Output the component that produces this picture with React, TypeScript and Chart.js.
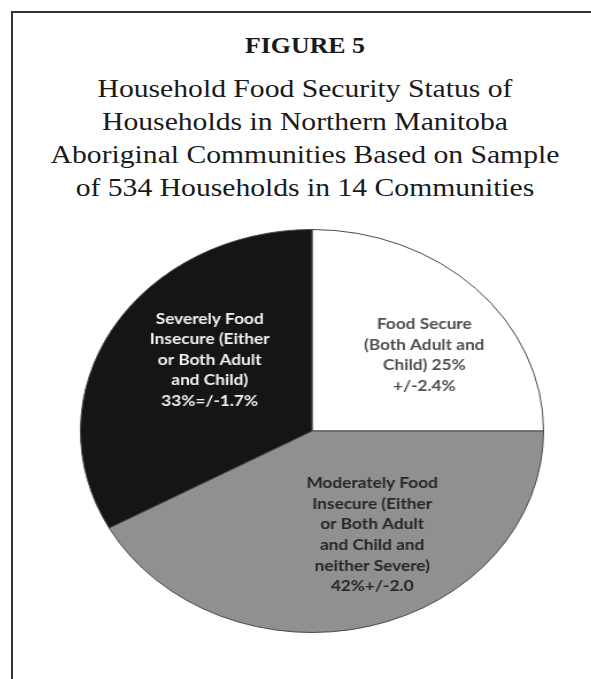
import React, { useEffect, useRef } from "react";
import { Chart, registerables } from "chart.js";

Chart.register(...registerables);

// ---------- data ----------
const figureLabel = "FIGURE 5";
const titleLines = [
  "Household Food Security Status of",
  "Households in Northern Manitoba",
  "Aboriginal Communities Based on Sample",
  "of 534 Households in 14 Communities",
];
const categories = [
  "Food Secure",
  "Moderately Food Insecure",
  "Severely Food Insecure",
];
const shares = [25, 42, 33];
const sliceLabels = [
  ["Food Secure", "(Both Adult and", "Child) 25%", "+/-2.4%"],
  [
    "Moderately Food",
    "Insecure (Either",
    "or Both Adult",
    "and Child and",
    "neither Severe)",
    "42%+/-2.0",
  ],
  ["Severely Food", "Insecure (Either", "or Both Adult", "and Child)", "33%=/-1.7%"],
];

// ---------- style ----------
const sliceColors = ["#ffffff", "#909090", "#151515"];
const labelColors = ["#505050", "#262626", "#f2f2f2"];
// label block centre, in units of the pie radius, relative to pie centre
const labelOffsets = [
  [0.485, -0.376],
  [0.26, 0.515],
  [-0.442, -0.353],
];
const STRETCH = 1.149;
const CANVAS_W = 460;
const CANVAS_H = 404;

const labelPlugin = {
  id: "sliceLabels",
  afterDatasetsDraw(chart: any) {
    const ctx = chart.ctx;
    const meta = chart.getDatasetMeta(0);
    ctx.save();
    ctx.font = "bold 15px Lato";
    ctx.textAlign = "center";
    ctx.textBaseline = "middle";
    const lh = 20.6;
    meta.data.forEach((arc: any, i: number) => {
      const { x, y, outerRadius } = arc.getProps(["x", "y", "outerRadius"], true);
      const cx = x + labelOffsets[i][0] * outerRadius;
      const cy = y + labelOffsets[i][1] * outerRadius;
      const lines = sliceLabels[i];
      ctx.fillStyle = labelColors[i];
      lines.forEach((t, k) => {
        ctx.fillText(t, cx, cy + (k - (lines.length - 1) / 2) * lh);
      });
    });
    ctx.restore();
  },
};

export default function App() {
  const canvasRef = useRef<HTMLCanvasElement | null>(null);

  useEffect(() => {
    if (!canvasRef.current) return;
    const chart = new Chart(canvasRef.current, {
      type: "pie",
      data: {
        labels: categories,
        datasets: [
          {
            data: shares,
            backgroundColor: sliceColors,
            borderColor: "#4a4a4a",
            borderWidth: 1,
          },
        ],
      },
      options: {
        responsive: false,
        animation: false,
        layout: { padding: 0 },
        plugins: {
          legend: { display: false },
          tooltip: { enabled: false },
          title: { display: false },
        },
      },
      plugins: [labelPlugin],
    });
    return () => chart.destroy();
  }, []);

  return (
    <div
      style={{
        position: "absolute",
        left: 0,
        top: 0,
        width: 591,
        height: 679,
        overflow: "hidden",
        background: "#ffffff",
      }}
    >
      <div
        style={{
          position: "absolute",
          left: 11,
          top: 11,
          width: 700,
          height: 800,
          borderTop: "2px solid #333333",
          borderLeft: "2px solid #333333",
        }}
      />
      <div
        style={{
          position: "absolute",
          left: 0,
          top: 32,
          width: 610,
          textAlign: "center",
          fontFamily: "'Liberation Serif', serif",
          fontWeight: "bold",
          fontSize: 22.5,
          lineHeight: "28px",
          color: "#1a1a1a",
          whiteSpace: "nowrap",
          transform: `scaleX(${STRETCH})`,
          transformOrigin: "50% 50%",
        }}
      >
        {figureLabel}
      </div>
      <div
        style={{
          position: "absolute",
          left: 0,
          top: 72,
          width: 610,
          textAlign: "center",
          fontFamily: "'Liberation Serif', serif",
          fontSize: 25.8,
          lineHeight: "33px",
          color: "#1a1a1a",
          whiteSpace: "nowrap",
          transform: `scaleX(${STRETCH})`,
          transformOrigin: "50% 50%",
        }}
      >
        {titleLines.map((t, i) => (
          <div key={i}>{t}</div>
        ))}
      </div>
      <canvas
        ref={canvasRef}
        width={CANVAS_W}
        height={CANVAS_H}
        style={{
          position: "absolute",
          left: 312 - CANVAS_W / 2,
          top: 431 - CANVAS_H / 2,
          width: CANVAS_W,
          height: CANVAS_H,
          transform: `scaleX(${STRETCH})`,
          transformOrigin: "50% 50%",
        }}
      />
    </div>
  );
}
